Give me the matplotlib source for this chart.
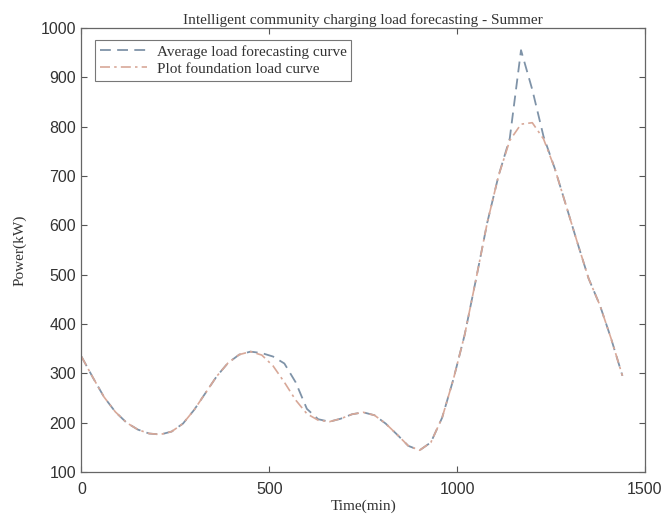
import matplotlib
matplotlib.use("Agg")
import matplotlib.pyplot as plt

time_min = [0, 30, 60, 90, 120, 150, 180, 210, 240, 270, 300, 330, 360, 390, 420, 450,
            480, 510, 540, 570, 600, 630, 660, 690, 720, 750, 780, 810, 840, 870, 900,
            930, 960, 990, 1020, 1050, 1080, 1110, 1140, 1170, 1200, 1230, 1260, 1290,
            1320, 1350, 1380, 1410, 1440]

foundation_load = [334, 292, 252, 222, 200, 186, 178, 176, 182, 198, 226, 260, 294, 321, 338, 344,
                   337, 315, 282, 246, 218, 205, 202, 208, 217, 221, 215, 198, 176, 153, 144,
                   160, 210, 288, 378, 490, 605, 700, 772, 805, 808, 775, 715, 640,
                   565, 492, 438, 370, 295]

average_forecast = [334, 292, 252, 222, 200, 186, 178, 176, 182, 198, 226, 260, 294, 321, 338, 344,
                    341, 334, 320, 282, 228, 207, 202, 208, 217, 221, 215, 198, 176, 153, 144,
                    160, 210, 288, 378, 490, 605, 700, 776, 955, 875, 780, 715, 640,
                    565, 492, 438, 370, 295]

x_ticks = [0, 500, 1000, 1500]
y_ticks = [100, 200, 300, 400, 500, 600, 700, 800, 900, 1000]

serif = ["Liberation Serif", "DejaVu Serif"]
sans = ["Liberation Sans", "DejaVu Sans"]

fig = plt.figure(figsize=(6.69, 5.2), dpi=100)
ax = fig.add_axes([0.1218, 0.0923, 0.8423, 0.8539])

ax.plot(time_min, average_forecast, linestyle=(0, (6, 3.5)), color="#7f93a8", lw=1.3,
        label="Average load forecasting curve")
ax.plot(time_min, foundation_load, linestyle=(0, (6, 2.5, 1.5, 2.5)), color="#d8a898", lw=1.2,
        label="Plot foundation load curve")

ax.set_xlim(0, 1500)
ax.set_ylim(100, 1000)
ax.set_xticks(x_ticks)
ax.set_yticks(y_ticks)
ax.tick_params(direction="in", top=True, right=True, length=4, width=0.8,
               colors="#555555", labelcolor="#333333", labelsize=11.5)
ax.tick_params(axis="x", pad=7)
ax.tick_params(axis="y", pad=4)
for lab in ax.get_xticklabels() + ax.get_yticklabels():
    lab.set_fontfamily(sans)
for sp in ax.spines.values():
    sp.set_color("#666666")
    sp.set_linewidth(0.9)

ax.set_title("Intelligent community charging load forecasting - Summer",
             fontfamily=serif, fontsize=11, color="#333333", pad=3)
ax.set_xlabel("Time(min)", fontfamily=serif, fontsize=11, color="#333333", labelpad=2)
ax.set_ylabel("Power(kW)", fontfamily=serif, fontsize=11, color="#333333", labelpad=10)

leg = ax.legend(loc="upper left", bbox_to_anchor=(0.024, 0.973), borderaxespad=0,
                prop={"family": serif, "size": 11}, frameon=True, fancybox=False,
                handlelength=3.1, handletextpad=0.6, borderpad=0.33, labelspacing=0.2)
leg.get_frame().set_edgecolor("#555555")
leg.get_frame().set_linewidth(0.8)
for t in leg.get_texts():
    t.set_color("#333333")

fig.savefig("out.png", dpi=100)
